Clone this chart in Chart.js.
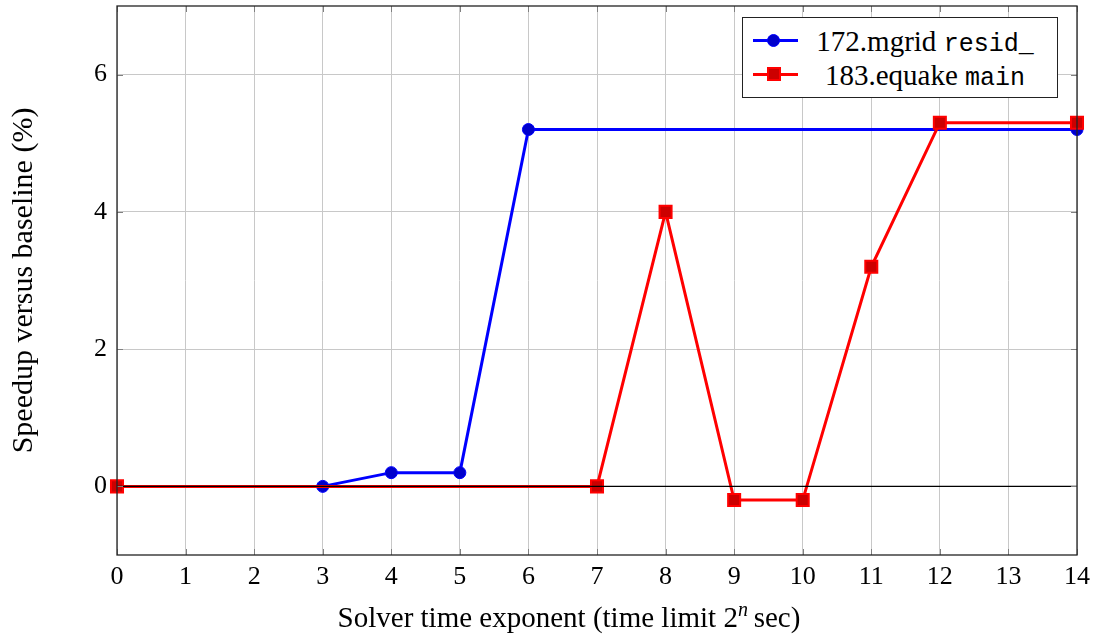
<!DOCTYPE html>
<html><head><meta charset="utf-8">
<script src="https://cdn.jsdelivr.net/npm/chart.js@4/dist/chart.umd.min.js"></script>
<style>
html,body{margin:0;padding:0;background:#fff;}
#wrap{position:relative;width:1101px;height:637px;}
#legend{position:absolute;left:742px;top:17px;width:314px;height:79px;border:1px solid #222;background:#fff;font-family:"Liberation Serif","DejaVu Serif",serif;font-size:29px;color:#000;}
.row{position:absolute;left:0;width:314px;height:34px;}
.ln{position:absolute;left:10px;width:45px;height:3px;top:15px;}
.mk{position:absolute;}
.txt{position:absolute;left:60px;width:244px;text-align:center;top:0;line-height:34px;white-space:nowrap;}
.mono{font-family:"Liberation Mono","DejaVu Sans Mono",monospace;font-size:25px;}
#xtitle{position:absolute;left:269px;width:600px;top:600px;height:34px;line-height:34px;text-align:center;font-family:"Liberation Serif","DejaVu Serif",serif;font-size:29px;color:#000;white-space:nowrap;}
#xtitle sup{font-size:20px;line-height:0;vertical-align:0;position:relative;top:-11px;}
</style>
</head><body>
<div id="wrap">
<canvas id="c" width="1101" height="637"></canvas>
<div id="legend">
  <div class="row" style="top:6px">
    <div class="ln" style="background:#0000ff"></div>
    <div class="mk" style="left:24px;top:10px;width:13px;height:13px;border-radius:50%;background:#0000cc;border:1px solid #0000ff;box-sizing:border-box"></div>
    <div class="txt">172.mgrid <span class="mono">resid_</span></div>
  </div>
  <div class="row" style="top:40px">
    <div class="ln" style="background:#ff0000"></div>
    <div class="mk" style="left:24px;top:9px;width:14px;height:14px;background:#cc0000;border:2px solid #ff0000;box-sizing:border-box"></div>
    <div class="txt">183.equake <span class="mono">main</span></div>
  </div>
</div>
<div id="xtitle">Solver time exponent (time limit 2<sup><i>n</i></sup>&#8201;sec)</div>
</div>
<script>
const xTicks = [0,1,2,3,4,5,6,7,8,9,10,11,12,13,14];
const yTicks = [0,2,4,6];
const mgridX = [3,4,5,6,14];
const mgridY = [0,0.2,0.2,5.2,5.2];
const equakeX = [0,7,8,9,10,11,12,14];
const equakeY = [0,0,4,-0.2,-0.2,3.2,5.3,5.3];
const seriesNames = ['172.mgrid resid_','183.equake main'];
const yTitle = 'Speedup versus baseline (%)';

const toPts = (xs, ys) => xs.map((x,i)=>({x:x,y:ys[i]}));
const SERIF = '"Liberation Serif","DejaVu Serif",serif';

const framePlugin = {
  id:'frame',
  afterDatasetsDraw(chart){
    const {ctx, chartArea:a, scales} = chart;
    const y0 = scales.y.getPixelForValue(0);
    ctx.save();
    ctx.strokeStyle = '#000';
    ctx.lineWidth = 1.2;
    ctx.beginPath(); ctx.moveTo(a.left,y0); ctx.lineTo(a.right,y0); ctx.stroke();
    ctx.strokeStyle = '#808080';
    ctx.lineWidth = 1;
    ctx.beginPath();
    xTicks.forEach(v=>{const px=Math.round(scales.x.getPixelForValue(v))+0.5; ctx.moveTo(px,a.bottom); ctx.lineTo(px,a.bottom-6); ctx.moveTo(px,a.top); ctx.lineTo(px,a.top+6);});
    yTicks.forEach(v=>{const py=Math.round(scales.y.getPixelForValue(v))+0.5; ctx.moveTo(a.left,py); ctx.lineTo(a.left+6,py); ctx.moveTo(a.right,py); ctx.lineTo(a.right-6,py);});
    ctx.stroke();
    ctx.strokeStyle = '#222';
    ctx.lineWidth = 1.3;
    ctx.strokeRect(a.left, a.top, a.right-a.left, a.bottom-a.top);
    ctx.restore();
  }
};

new Chart(document.getElementById('c'), {
  type:'line',
  data:{datasets:[
    {label:seriesNames[0], data:toPts(mgridX,mgridY), borderColor:'#0000ff', backgroundColor:'#0000cc', borderWidth:3, pointStyle:'circle', pointRadius:6, pointBorderWidth:1, pointBorderColor:'#0000ff', pointBackgroundColor:'#0000cc', tension:0, order:2, clip:false},
    {label:seriesNames[1], data:toPts(equakeX,equakeY), borderColor:'#ff0000', backgroundColor:'#cc0000', borderWidth:3, pointStyle:'rect', pointRadius:8.5, pointBorderWidth:2, pointBorderColor:'#ff0000', pointBackgroundColor:'#cc0000', tension:0, order:1, clip:false}
  ]},
  options:{
    responsive:false, animation:false, devicePixelRatio:1,
    layout:{autoPadding:false, padding:{left:0,top:6,right:24,bottom:0}},
    plugins:{legend:{display:false}, tooltip:{enabled:false}},
    scales:{
      x:{type:'linear', min:0, max:14,
        afterBuildTicks(s){ s.ticks = xTicks.map(v=>({value:v})); },
        afterFit(s){ s.height = 82; s.paddingLeft = 0; s.paddingRight = 0; },
        grid:{color:'#c8c8c8', lineWidth:1, drawTicks:false},
        border:{display:false},
        ticks:{padding:7, color:'#000', font:{family:SERIF, size:26}},
        title:{display:false}
      },
      y:{type:'linear', min:-1, max:7,
        afterBuildTicks(s){ s.ticks = yTicks.map(v=>({value:v})); },
        afterFit(s){ s.width = 117; s.paddingTop = 0; s.paddingBottom = 0; },
        grid:{color:'#c8c8c8', lineWidth:1, drawTicks:false},
        border:{display:false},
        ticks:{padding:10, color:'#000', font:{family:SERIF, size:26}},
        title:{display:true, text:yTitle, color:'#000', padding:{top:6,bottom:0}, font:{family:SERIF, size:30}}
      }
    }
  },
  plugins:[framePlugin]
});
</script>
</body></html>
